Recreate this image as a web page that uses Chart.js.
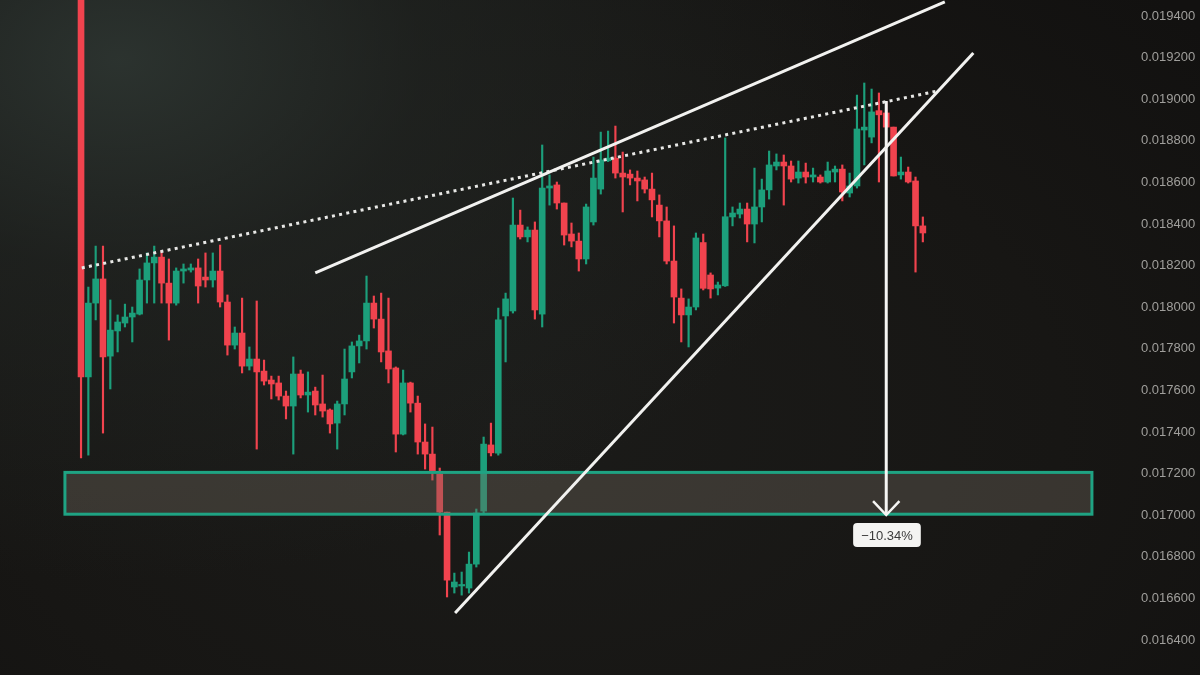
<!DOCTYPE html>
<html>
<head>
<meta charset="utf-8">
<script src="https://cdn.jsdelivr.net/npm/chart.js@4.4.1/dist/chart.umd.min.js"></script>
<style>
html,body{margin:0;padding:0;width:1200px;height:675px;overflow:hidden;}
body{
  background:
    radial-gradient(ellipse 760px 520px at 120px 60px, rgba(46,54,50,0.9) 0%, rgba(36,41,38,0.55) 40%, rgba(30,31,28,0) 100%),
    radial-gradient(ellipse 900px 600px at 520px 420px, #1b1b19 0%, #171614 60%, #121110 100%);
}
#wrap{position:relative;width:1200px;height:675px;}
</style>
</head>
<body>
<div id="wrap"><canvas id="c" width="1200" height="675"></canvas></div>
<script>
// ---- candle data (price) ----
const opens  = [0.019700,0.017665,0.018020,0.018136,0.017765,0.017886,0.017924,0.017953,0.017967,0.018131,
                0.018213,0.018241,0.018116,0.018020,0.018174,0.018179,0.018189,0.018145,0.018131,0.018174,
                0.018025,0.017818,0.017876,0.017717,0.017751,0.017693,0.017650,0.017636,0.017573,0.017525,
                0.017679,0.017578,0.017597,0.017535,0.017506,0.017443,0.017535,0.017689,0.017814,0.017838,
                0.018020,0.017943,0.017790,0.017708,0.017390,0.017636,0.017539,0.017352,0.017294,0.017198,
                0.017015,0.016655,0.016660,0.016650,0.016765,0.017020,0.017338,0.017299,0.017958,0.017982,
                0.018395,0.018338,0.018371,0.017967,0.018573,0.018588,0.018501,0.018352,0.018318,0.018232,
                0.018410,0.018568,0.018704,0.018717,0.018645,0.018640,0.018621,0.018612,0.018568,0.018491,
                0.018415,0.018222,0.018044,0.017963,0.018001,0.018311,0.018155,0.018092,0.018103,0.018434,
                0.018448,0.018472,0.018400,0.018482,0.018564,0.018679,0.018698,0.018679,0.018621,0.018650,
                0.018626,0.018626,0.018602,0.018650,0.018664,0.018549,0.018583,0.018852,0.018818,0.018945,
                0.018934,0.018866,0.018636,0.018650,0.018607,0.018391];
const highs  = [0.019700,0.018097,0.018294,0.018294,0.018035,0.017963,0.018015,0.018001,0.018184,0.018261,
                0.018294,0.018270,0.018232,0.018189,0.018208,0.018208,0.018232,0.018261,0.018261,0.018299,
                0.018059,0.017905,0.018044,0.017809,0.018030,0.017746,0.017669,0.017669,0.017597,0.017761,
                0.017698,0.017689,0.017616,0.017674,0.017511,0.017549,0.017799,0.017833,0.017866,0.018150,
                0.018054,0.018068,0.018044,0.017713,0.017698,0.017640,0.017573,0.017439,0.017424,0.017227,
                0.017015,0.016722,0.016727,0.016823,0.017030,0.017376,0.017443,0.017996,0.018068,0.018525,
                0.018467,0.018386,0.018410,0.018780,0.018636,0.018602,0.018501,0.018405,0.018357,0.018496,
                0.018722,0.018842,0.018847,0.018871,0.018746,0.018660,0.018655,0.018626,0.018645,0.018540,
                0.018482,0.018391,0.018088,0.018040,0.018357,0.018352,0.018165,0.018121,0.018814,0.018482,
                0.018501,0.018501,0.018669,0.018616,0.018751,0.018737,0.018732,0.018703,0.018703,0.018693,
                0.018669,0.018636,0.018698,0.018679,0.018684,0.018645,0.019020,0.019078,0.019049,0.019030,
                0.018987,0.018866,0.018722,0.018674,0.018626,0.018434];
const lows   = [0.017275,0.017289,0.017939,0.017395,0.017607,0.017785,0.017905,0.017833,0.017963,0.018020,
                0.018020,0.018020,0.017842,0.018010,0.018116,0.018169,0.018020,0.018097,0.018097,0.018001,
                0.017770,0.017799,0.017684,0.017698,0.017318,0.017626,0.017559,0.017554,0.017463,0.017294,
                0.017564,0.017496,0.017482,0.017472,0.017395,0.017318,0.017482,0.017660,0.017732,0.017799,
                0.017900,0.017737,0.017636,0.017304,0.017386,0.017496,0.017294,0.017222,0.017169,0.016905,
                0.016607,0.016626,0.016616,0.016626,0.016751,0.017011,0.017285,0.017289,0.017737,0.017972,
                0.018328,0.018314,0.017943,0.017905,0.018491,0.018472,0.018299,0.018290,0.018174,0.018208,
                0.018395,0.018544,0.018700,0.018621,0.018458,0.018588,0.018511,0.018549,0.018434,0.018338,
                0.018208,0.017924,0.017833,0.017809,0.017987,0.018083,0.018044,0.018059,0.018100,0.018391,
                0.018429,0.018314,0.018309,0.018410,0.018520,0.018660,0.018491,0.018602,0.018597,0.018597,
                0.018602,0.018597,0.018597,0.018602,0.018511,0.018530,0.018573,0.018684,0.018790,0.018602,
                0.018862,0.018631,0.018616,0.018597,0.018169,0.018314];
const closes = [0.017665,0.018020,0.018136,0.017761,0.017890,0.017929,0.017953,0.017972,0.018131,0.018213,
                0.018241,0.018116,0.018020,0.018174,0.018184,0.018189,0.018102,0.018131,0.018174,0.018025,
                0.017818,0.017876,0.017717,0.017751,0.017689,0.017645,0.017631,0.017573,0.017525,0.017679,
                0.017578,0.017592,0.017530,0.017501,0.017439,0.017535,0.017655,0.017814,0.017838,0.018020,
                0.017943,0.017785,0.017703,0.017390,0.017636,0.017539,0.017352,0.017294,0.017213,0.017015,
                0.016688,0.016679,0.016664,0.016765,0.017011,0.017342,0.017300,0.017939,0.018040,0.018395,
                0.018338,0.018371,0.017987,0.018573,0.018583,0.018501,0.018347,0.018318,0.018232,0.018482,
                0.018621,0.018708,0.018717,0.018645,0.018626,0.018621,0.018607,0.018568,0.018516,0.018415,
                0.018222,0.018049,0.017963,0.018001,0.018333,0.018091,0.018088,0.018107,0.018435,0.018453,
                0.018472,0.018400,0.018482,0.018564,0.018684,0.018698,0.018679,0.018616,0.018650,0.018626,
                0.018636,0.018602,0.018655,0.018664,0.018554,0.018583,0.018857,0.018866,0.018939,0.018925,
                0.018866,0.018631,0.018650,0.018602,0.018391,0.018357];

// ---- y-axis tick labels ----
const tickValues = [0.0164,0.0166,0.0168,0.0170,0.0172,0.0174,0.0176,0.0178,0.0180,0.0182,0.0184,0.0186,0.0188,0.0190,0.0192,0.0194];

// ---- annotations (candle index, price) ----
const upperLineX = [32.0, 118.0];
const upperLineY = [0.018165, 0.019468];
const lowerLineX = [51.1, 121.9];
const lowerLineY = [0.016530, 0.019222];
const dottedLineX = [0.1, 117.1];
const dottedLineY = [0.018189, 0.019040];
const arrowX = [110, 110];
const arrowY = [0.018991, 0.017001];
const arrowHeadX = [108.2, 110, 111.8];
const arrowHeadY = [0.017068, 0.017001, 0.017068];
const zoneX = [-2.2, 138.1];
const zoneY = [0.017005, 0.017206];
const labelText = '−10.34%';
const labelPos = [110.1, 0.016905];

const UP = '#1c9f7b', DOWN = '#f1434e';
const idx = opens.map((_, i) => i);
const colors = idx.map(i => closes[i] >= opens[i] ? UP : DOWN);
const wickData = idx.map(i => ({x: i, y: [lows[i], highs[i]]}));
const bodyData = idx.map(i => ({x: i, y: [opens[i], closes[i]]}));
const pts = (xs, ys) => xs.map((x, i) => ({x, y: ys[i]}));

const annotPlugin = {
  id: 'annot',
  afterDatasetDraw(chart, args) {
    if (args.index !== 1) return;
    const {ctx} = chart;
    const xs = chart.scales.x, ys = chart.scales.y;
    const x0 = xs.getPixelForValue(zoneX[0]), x1 = xs.getPixelForValue(zoneX[1]);
    const y0 = ys.getPixelForValue(zoneY[1]), y1 = ys.getPixelForValue(zoneY[0]);
    ctx.save();
    ctx.fillStyle = 'rgba(112,106,94,0.38)';
    ctx.fillRect(x0, y0, x1 - x0, y1 - y0);
    ctx.strokeStyle = '#1fa383';
    ctx.lineWidth = 3;
    ctx.strokeRect(x0, y0, x1 - x0, y1 - y0);
    ctx.restore();
  },
  afterDatasetsDraw(chart) {
    const {ctx} = chart;
    const cx = chart.scales.x.getPixelForValue(labelPos[0]);
    const cy = chart.scales.y.getPixelForValue(labelPos[1]);
    ctx.save();
    ctx.font = '13px "Liberation Sans", Arial, sans-serif';
    const w = ctx.measureText(labelText).width + 16, h = 24;
    ctx.fillStyle = '#f4f4f2';
    ctx.beginPath();
    ctx.roundRect(cx - w / 2, cy - h / 2, w, h, 4);
    ctx.fill();
    ctx.fillStyle = '#3a3a3a';
    ctx.textAlign = 'center';
    ctx.textBaseline = 'middle';
    ctx.fillText(labelText, cx, cy + 1);
    ctx.restore();
  }
};

new Chart(document.getElementById('c'), {
  type: 'bar',
  data: {
    datasets: [
      {type: 'bar', data: wickData, backgroundColor: colors, barThickness: 1.5, grouped: false, order: 3},
      {type: 'bar', data: bodyData, backgroundColor: colors, barThickness: 6, grouped: false, minBarLength: 1.5, order: 2},
      {type: 'line', data: pts(upperLineX, upperLineY), borderColor: '#f2f2f0', borderWidth: 3, pointRadius: 0, order: 0},
      {type: 'line', data: pts(lowerLineX, lowerLineY), borderColor: '#f2f2f0', borderWidth: 3, pointRadius: 0, order: 0},
      {type: 'line', data: pts(dottedLineX, dottedLineY), borderColor: '#e8e8e6', borderWidth: 3, borderDash: [3, 4.3], pointRadius: 0, order: 0},
      {type: 'line', data: pts(arrowX, arrowY), borderColor: '#f5f5f3', borderWidth: 3, pointRadius: 0, order: 0},
      {type: 'line', data: pts(arrowHeadX, arrowHeadY), borderColor: '#f5f5f3', borderWidth: 2.5, pointRadius: 0, borderJoinStyle: 'miter', order: 0}
    ]
  },
  options: {
    responsive: false,
    animation: false,
    events: [],
    layout: {padding: 0},
    plugins: {legend: {display: false}, tooltip: {enabled: false}},
    scales: {
      x: {
        type: 'linear', display: false, offset: false,
        min: -11.07, max: 143.3
      },
      y: {
        type: 'linear', position: 'right', beginAtZero: false,
        min: 0.016232, max: 0.019477,
        grid: {display: false, drawTicks: false}, border: {display: false},
        ticks: {
          color: '#a09f9c', padding: 11,
          font: {family: '"Liberation Sans", Arial, sans-serif', size: 13},
          callback: v => v.toFixed(6)
        },
        afterBuildTicks: s => { s.ticks = tickValues.map(v => ({value: v})); },
        afterFit: s => { s.width = 70; s.paddingTop = 0; s.paddingBottom = 0; }
      }
    }
  },
  plugins: [annotPlugin]
});
</script>
</body>
</html>
